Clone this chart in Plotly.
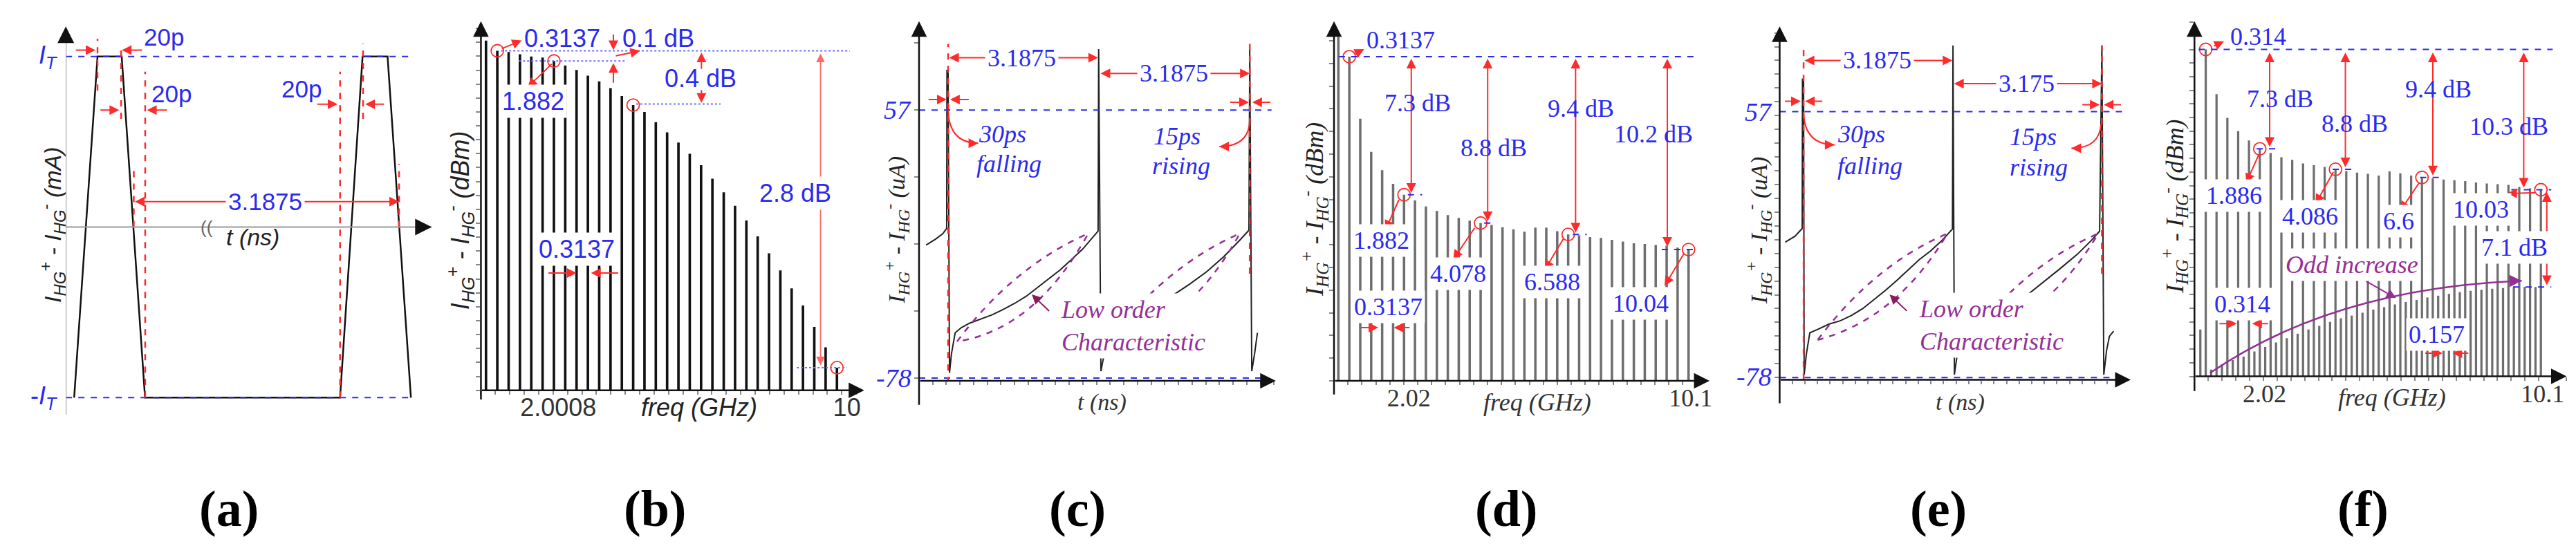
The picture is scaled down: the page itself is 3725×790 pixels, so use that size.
import plotly.graph_objects as go

W, H = 3725, 790
BLUE = "#2a2af0"
RED = "#ff2a2a"
PURPLE = "#952f95"
SANS = "Liberation Sans"
SERIF = "Liberation Serif"

# (a) ideal output current, in units of I_T
t_a = [0.10, 0.38, 0.67, 0.95, 3.29, 3.56, 3.86, 4.14]
i_a = [-1, 1, 1, -1, -1, 1, 1, -1]

# (b) spectrum of the ideal current, dB relative to the 0.3137 GHz line
freq_b = [0.0, 0.3137, 0.6274, 0.9411, 1.2548, 1.5685, 1.8822, 2.1959, 2.5096, 2.8233,
          3.137, 3.4507, 3.7644, 4.0781, 4.3918, 4.7055, 5.0192, 5.3329, 5.6466, 5.9603,
          6.274, 6.5877, 6.9014, 7.2151, 7.5288, 7.8425, 8.1562, 8.4699, 8.7836, 9.0973,
          9.411, 9.7247]
level_b = [0.09, 0.0, -0.01, -0.03, -0.05, -0.06, -0.09, -0.13, -0.17, -0.22,
           -0.27, -0.33, -0.40, -0.48, -0.54, -0.63, -0.72, -0.81, -0.91, -1.01,
           -1.13, -1.25, -1.37, -1.50, -1.64, -1.79, -1.94, -2.10, -2.25, -2.44,
           -2.62, -2.80]
floor_b = -3.0

# (c) simulated output current (uA), 30ps fall / 15ps rise
t_c = [-0.467, -0.257, -0.108, -0.03, -0.024, 0.0, 0.03, 0.072, 0.15, 0.281, 0.461, 0.70,
       0.94, 1.18, 1.419, 1.659, 1.898, 2.138, 2.377, 2.617, 2.856, 3.186, 3.198, 3.246,
       3.335, 3.395, 3.575, 3.874, 4.17, 4.47, 4.80, 5.13, 5.49, 5.85, 6.21, 6.39, 6.407,
       6.45, 6.51, 6.57]
i_c = [-11.0, -7.9, -5.2, -2.6, 77.2, 75.4, -75.4, -65.7, -55.2, -52.6, -50.3, -48.2,
       -46.1, -43.3, -40.3, -36.8, -32.4, -28.0, -23.6, -18.4, -13.1, -4.0, 87.7, -74.5,
       -64.0, -56.1, -53.4, -50.8, -47.3, -42.9, -35.9, -30.7, -24.5, -17.0, -8.2, -3.5, 87.7,
       -74.5, -65.7, -55.2]

# (d) spectrum of (c), dB relative to the 0.3137 GHz line
freq_d = freq_b + [10.0384]
level_d = [1.05, 0.0, -3.28, -5.03, -6.0, -6.72, -7.3, -7.6, -7.92, -8.16, -8.38, -8.53,
           -8.67, -8.8, -8.9, -9.02, -9.13, -9.26, -9.04, -9.04, -9.23, -9.4, -9.45, -9.54,
           -9.59, -9.69, -9.78, -9.87, -9.91, -9.96, -10.0, -10.1, -10.2]
floor_d = -17.15

# (e) simulated output current (uA), second period 3.175 ns
t_e = [-0.393, -0.181, -0.03, -0.024, 0.0, 0.012, 0.06, 0.133, 0.30, 0.543, 0.785, 1.027,
       1.268, 1.51, 1.751, 1.993, 2.234, 2.476, 2.717, 2.959, 3.188, 3.2, 3.23, 3.29, 3.35,
       3.62, 3.93, 4.23, 4.53, 4.80, 5.13, 5.50, 5.86, 6.16, 6.34, 6.389, 6.43, 6.49, 6.55, 6.64]
i_e = [-9.3, -6.2, -2.3, 73.8, 72.0, -76.6, -66.0, -55.3, -53.6, -50.9, -49.2, -46.5,
       -43.0, -38.5, -33.8, -28.8, -23.5, -18.2, -13.8, -8.5, -2.6, 90.6, -76.6, -66.0, -56.2,
       -53.6, -50.9, -47.4, -43.0, -35.9, -29.7, -22.6, -15.5, -8.5, -3.7, 90.6, -76.6, -64.2,
       -57.1, -54.5]

# (f) spectrum of (e): main lines every 0.314 GHz and odd lines in between
freq_f_main = [0.314, 0.628, 0.942, 1.256, 1.57, 1.884, 2.198, 2.512, 2.826, 3.14, 3.454,
               3.768, 4.082, 4.396, 4.71, 5.024, 5.338, 5.652, 5.966, 6.28, 6.594, 6.908,
               7.222, 7.536, 7.85, 8.164, 8.478, 8.792, 9.106, 9.42, 9.734, 10.048]
level_f_main = [0.0, -3.29, -5.02, -6.0, -6.68, -7.3, -7.6, -7.91, -8.11, -8.37, -8.5, -8.62,
                -8.8, -8.93, -9.05, -9.13, -9.26, -8.96, -9.1, -9.26, -9.4, -9.47, -9.55,
                -9.6, -9.67, -9.77, -9.84, -9.9, -9.95, -10.1, -10.2, -10.3]
freq_f_odd = [0.157, 0.471, 0.785, 1.099, 1.413, 1.727, 2.041, 2.355, 2.669, 2.983, 3.297,
              3.611, 3.925, 4.239, 4.553, 4.867, 5.181, 5.495, 5.809, 6.123, 6.437, 6.751,
              7.065, 7.379, 7.693, 8.007, 8.321, 8.635, 8.949, 9.263, 9.577, 9.891]
level_f_odd = [-20.56, -23.5, -23.12, -22.81, -22.55, -22.17, -21.84, -21.51, -21.2, -20.87,
               -20.56, -20.3, -20.0, -19.74, -19.54, -19.33, -19.1, -18.92, -18.72, -18.54,
               -18.39, -18.21, -18.08, -17.95, -17.82, -17.72, -17.64, -17.57, -17.52,
               -17.47, -17.44, -17.44]
floor_f = -24.0

# panel boxes in pixels (left, right, bottom, top) and data ranges
boxes = {1: (87.3, 617, 592, 30.2), 2: (688.2, 1243, 556.7, 22.7), 3: (1322.4, 1838.8, 543.1, 22.7),
         4: (1923.1, 2466.7, 543.1, 22.7), 5: (2568.2, 3076.3, 541.6, 30.2), 6: (3168.7, 3707.4, 536.5, 22.7)}
xr = {1: [0, 4.39], 2: [-0.14, 10.48], 3: [-0.617, 6.96], 4: [-0.125, 10.64], 5: [-0.513, 7.005], 6: [-0.013, 10.795]}
yr = {1: [-1.10, 1.177], 2: [-3.0, 0.2615], 3: [-79.4, 101.7], 4: [-17.15, 1.88], 5: [-79.2, 100.3], 6: [-24.0, 2.07]}


def ref(i):
    return ("x", "y") if i == 1 else ("x%d" % i, "y%d" % i)


def to_paper(i, x, y):
    # plotly hides data-referenced annotations outside the axis range,
    # so labels beside the axes go through paper coordinates instead
    l, r, b, t = boxes[i]
    fx = (x - xr[i][0]) / (xr[i][1] - xr[i][0])
    fy = (y - yr[i][0]) / (yr[i][1] - yr[i][0])
    return (l + fx * (r - l)) / W, 1 - (b - fy * (b - t)) / H


annotations = []
shapes = []


def arrow(i, x0, y0, x1, y1, color=RED, width=2, size=1.4, both=False):
    a, b = ref(i)
    annotations.append(dict(xref=a, yref=b, axref=a, ayref=b, x=x1, y=y1, ax=x0, ay=y0, text="",
                            showarrow=True, arrowhead=2, startarrowhead=2, arrowsize=size,
                            startarrowsize=size, arrowwidth=width, arrowcolor=color,
                            arrowside="end+start" if both else "end"))


def text(i, x, y, s, size=34, color=BLUE, family=SERIF, bg=None, italic=False, **kw):
    a, b = ref(i)
    inside = xr[i][0] <= x <= xr[i][1] and yr[i][0] <= y <= yr[i][1]
    if not inside:
        x, y = to_paper(i, x, y)
        a, b = "paper", "paper"
    annotations.append(dict(xref=a, yref=b, x=x, y=y, text="<i>%s</i>" % s if italic else s,
                            showarrow=False, xanchor="center", yanchor="middle",
                            font=dict(family=family, size=size, color=color),
                            bgcolor=bg or "rgba(0,0,0,0)", borderpad=3, **kw))


def seg(i, x0, y0, x1, y1, color=BLUE, dash="dash", width=2):
    a, b = ref(i)
    shapes.append(dict(type="line", xref=a, yref=b, x0=x0, y0=y0, x1=x1, y1=y1,
                       line=dict(color=color, dash=dash, width=width)))


def curve(i, path, color, dash="solid", width=2):
    a, b = ref(i)
    shapes.append(dict(type="path", xref=a, yref=b, path=path, line=dict(color=color, dash=dash, width=width)))


def paper_text(px, py, s, size, family, color="#222", angle=0):
    annotations.append(dict(xref="paper", yref="paper", x=px / W, y=1 - py / H, text=s, showarrow=False,
                            xanchor="center", yanchor="middle", textangle=angle,
                            font=dict(family=family, size=size, color=color)))


fig = go.Figure()

# ---------------- (a)
seg(1, 0, 1, 4.12, 1, BLUE)
seg(1, 0, -1, 4.14, -1, BLUE)
fig.add_trace(go.Scatter(x=t_a, y=i_a, mode="lines", line=dict(color="#111", width=2.5), xaxis="x", yaxis="y"))
for tx, y0, y1 in [(0.38, 0.80, 1.105), (0.663, 0.635, 1.064), (0.952, -1, 0.911), (0.815, 0, 0.36),
                   (3.29, -1, 0.911), (3.566, 0.635, 1.075), (3.998, 0, 0.37)]:
    seg(1, tx, y0, tx, y1, RED, "dash", 2.5)
seg(1, 0, 0, 4.39, 0, "#999", "solid", 2)
seg(1, 0, -1.10, 0, 1.15, "#999", "solid", 2)
arrow(1, 0, 1.08, 0, 1.177, "#111", 3, 1.6)
arrow(1, 4.30, 0, 4.39, 0, "#111", 3, 1.6)
arrow(1, 0.108, 1.038, 0.355, 1.038)
arrow(1, 0.926, 1.038, 0.672, 1.038)
arrow(1, 0.403, 0.686, 0.640, 0.686)
arrow(1, 1.227, 0.686, 0.973, 0.686)
arrow(1, 3.005, 0.721, 3.259, 0.721)
arrow(1, 3.83, 0.721, 3.592, 0.721)
arrow(1, 0.815, 0.149, 3.998, 0.149, both=True)
text(1, 1.174, 1.115, "20p", 35, family=SANS)
text(1, 1.269, 0.784, "20p", 35, family=SANS)
text(1, 2.824, 0.809, "20p", 35, family=SANS)
text(1, 2.394, 0.149, "3.1875", 35, family=SANS, bg="white")
text(1, 1.688, 0.0, "((", 26, "#666", SANS)
text(1, 2.243, -0.06, "t (ns)", 34, "#222", SANS, italic=True)
text(1, -0.216, 1.0, "I<sub>T</sub>", 36, family=SANS, italic=True)
text(1, -0.264, -1.0, "-<i>I<sub>T</sub></i>", 36, family=SANS)

# ---------------- (b)
fig.add_trace(go.Bar(x=freq_b, y=[v - floor_b for v in level_b], base=floor_b, width=0.07,
                     marker=dict(color="#111", line_width=0), xaxis="x2", yaxis="y2"))
fig.add_trace(go.Scatter(x=[freq_b[1], freq_b[6], freq_b[13], freq_b[31]],
                         y=[level_b[1], level_b[6], level_b[13], level_b[31]], mode="markers",
                         marker=dict(symbol="circle-open", size=18, color=RED, line=dict(width=1.8)),
                         xaxis="x2", yaxis="y2"))
LB = "#6f6fff"
seg(2, 0.41, 0, 10.08, 0, LB, "dot", 2)
seg(2, 0.91, -0.09, 3.84, -0.09, LB, "dot", 2)
seg(2, 4.16, -0.47, 6.5, -0.47, LB, "dot", 2)
seg(2, 8.61, -2.8, 10.0, -2.8, LB, "dot", 2)
arrow(2, -0.14, -3.09, -0.14, 0.2615, "#111", 2.5, 1.8)
arrow(2, -0.14, -3.0, 10.48, -3.0, "#111", 2.5, 1.8)
arrow(2, 0.41, 0.015, 0.99, 0.092)
arrow(2, 3.53, 0.154, 3.53, 0.006)
arrow(2, 3.53, -0.292, 3.53, -0.108)
arrow(2, 3.57, -0.046, 4.27, 0.0)
arrow(2, 5.97, -0.169, 5.97, -0.015)
arrow(2, 5.97, -0.338, 5.97, -0.46)
arrow(2, 9.27, -0.015, 9.27, -2.78, "#ff6a6a", 1.8, both=True)
arrow(2, 1.85, -0.108, 1.15, -0.323)
arrow(2, 1.70, -1.963, 2.51, -1.963)
arrow(2, 3.69, -1.963, 2.91, -1.963)
text(2, 2.12, 0.108, "0.3137", 36, family=SANS)
text(2, 4.78, 0.108, "0.1 dB", 36, family=SANS)
text(2, 5.95, -0.246, "0.4 dB", 36, family=SANS)
text(2, 8.57, -1.26, "2.8 dB", 36, family=SANS, bg="white")
text(2, 1.31, -0.446, "1.882", 36, family=SANS, bg="white")
text(2, 2.52, -1.754, "0.3137", 36, family=SANS, bg="white")
text(2, 5.91, -3.154, "freq (GHz)", 36, "#222", SANS, italic=True)

# ---------------- (c) and (e): time waveforms
for i, t, cur, p, marks in [
    (3, t_c, i_c, [0.0, 6.407, 3.186, 3.216, "3.1875", 6.87, 6.81],
     dict(a1=83.3, a2=75.4, tx1=1.57, tx2=4.80, sm1=62.3, sm2=60.9, lens=(0.19, -59.6, 1.374, -21.9, 2.976, -5.2, 1.853, -53.4, 3.22),
          lo=(3.93, -51.7), la=(2.168, -44.7, 1.778, -35.9), tl=(3.275, -90.3), ybot=-92, rdb=-86.8, rd2=-25.4, rtop=90.3,
          c1=(0.0, 57, 0.02, 40.3, 0.64, 40.3), c2=(6.407, 51.7, 6.39, 38.6, 5.76, 38.6),
          txt=((1.15, 44.7), (1.30, 29.8), (4.86, 43.9), (4.95, 29.0)), n57=(-1.07, 57), n78=(-1.156, -78),
          sm=((-0.437, -0.03), (0.461, 0.042), (5.97, 6.39), (6.87, 6.46)))),
    (5, t_e, i_e, [0.0, 6.389, 3.188, 3.2, "3.175", 6.854, 6.763],
     dict(a1=83.0, a2=71.2, tx1=1.57, tx2=4.77, sm1=62.3, sm2=60.5, lens=(0.302, -58.9, 1.51, -20.8, 3.08, -4.9, 2.0, -48.3, 3.23),
          lo=(4.016, -51.5), la=(2.234, -44.7, 1.842, -35.9), tl=(3.35, -90.7), ybot=-91.6, rdb=-85.4, rd2=-25.3, rtop=90.6,
          c1=(0.0, 56.1, 0.03, 40.2, 0.664, 40.2), c2=(6.371, 50.8, 6.34, 38.4, 5.737, 38.4),
          txt=((1.238, 45.5), (1.419, 29.6), (4.92, 44.1), (5.04, 28.7)), n57=(-0.966, 57), n78=(-1.057, -77.5),
          sm=((-0.423, -0.06), (0.423, 0.03), (5.948, 6.34), (6.82, 6.43))))]:
    m = marks
    x0 = xr[i][0]
    seg(i, x0, 57, p[5], 57, BLUE, "dash", 2)
    seg(i, x0, -78, p[6], -78, BLUE, "dash", 2)
    L = m["lens"]
    for sh in (0, L[8]):
        curve(i, "M %g,%g Q %g,%g %g,%g Q %g,%g %g,%g" % (L[0] + sh, L[1], L[2] + sh, L[3], L[4] + sh, L[5],
                                                          L[6] + sh, L[7], L[0] + sh, L[1]), PURPLE, "dash", 2.5)
    fig.add_trace(go.Scatter(x=t, y=cur, mode="lines", line=dict(color="#222", width=2),
                             xaxis="x%d" % i, yaxis="y%d" % i))
    seg(i, p[0], m["rdb"], p[0], m["rtop"], RED, "dash", 2.5)
    seg(i, p[1], m["rd2"], p[1], m["rtop"], RED, "dash", 2.5)
    arrow(i, x0, m["ybot"], x0, yr[i][1], "#111", 2.5, 1.8)
    arrow(i, x0, yr[i][0], xr[i][1], yr[i][0], "#111", 2.5, 1.8)
    arrow(i, p[0], m["a1"], p[2], m["a1"], both=True)
    arrow(i, p[3], m["a2"], p[1], m["a2"], both=True)
    text(i, m["tx1"], m["a1"], "3.1875", 36, bg="white")
    text(i, m["tx2"], m["a2"], p[4], 36, bg="white")
    s = m["sm"]
    arrow(i, s[0][0], m["sm1"], s[0][1], m["sm1"])
    arrow(i, s[1][0], m["sm1"], s[1][1], m["sm1"])
    arrow(i, s[2][0], m["sm2"], s[2][1], m["sm2"])
    arrow(i, s[3][0], m["sm2"], s[3][1], m["sm2"])
    c1, c2 = m["c1"], m["c2"]
    curve(i, "M %g,%g Q %g,%g %g,%g" % c1, RED, width=2)
    curve(i, "M %g,%g Q %g,%g %g,%g" % c2, RED, width=2)
    arrow(i, c1[4] - 0.1, c1[5], c1[4], c1[5])
    arrow(i, c2[4] + 0.1, c2[5], c2[4], c2[5])
    tt = m["txt"]
    text(i, tt[0][0], tt[0][1], "30ps", 36, italic=True)
    text(i, tt[1][0], tt[1][1], "falling", 36, italic=True)
    text(i, tt[2][0], tt[2][1], "15ps", 36, italic=True)
    text(i, tt[3][0], tt[3][1], "rising", 36, italic=True)
    text(i, m["n57"][0], m["n57"][1], "57", 38, italic=True)
    text(i, m["n78"][0], m["n78"][1], "-78", 38, italic=True)
    text(i, m["lo"][0], m["lo"][1], "Low order<br>Characteristic", 36, PURPLE, italic=True, bg="white", align="left")
    la = m["la"]
    arrow(i, la[0], la[1], la[2], la[3], "#8b1a5a", 2)
    text(i, m["tl"][0], m["tl"][1], "t (ns)", 34, "#333", italic=True)

# ---------------- (d)
GR = "#6e6e6e"
fig.add_trace(go.Bar(x=freq_d, y=[v - floor_d for v in level_d], base=floor_d, width=0.07,
                     marker=dict(color=GR, line_width=0), xaxis="x4", yaxis="y4"))
seg(4, 0.01, 0, 10.28, 0, BLUE, "dash", 2)
for a0, a1, lv in [(1.99, 2.4, -7.3), (4.18, 4.54, -8.8), (6.72, 7.12, -9.4), (9.27, 10.2, -10.2)]:
    seg(4, a0, lv, a1, lv, BLUE, "dash", 2)
ci = [1, 6, 13, 21, 32]
fig.add_trace(go.Scatter(x=[freq_d[k] for k in ci], y=[level_d[k] for k in ci], mode="markers",
                         marker=dict(symbol="circle-open", size=18, color=RED, line=dict(width=1.8)),
                         xaxis="x4", yaxis="y4"))
arrow(4, -0.125, -17.92, -0.125, 1.88, "#111", 2.5, 1.8)
arrow(4, -0.125, -17.15, 10.64, -17.15, "#111", 2.5, 1.8)
arrow(4, 0.457, 0.13, 0.74, 0.405)
for fx, lv in [(2.09, -7.2), (4.28, -8.7), (6.80, -9.3), (9.43, -10.05)]:
    arrow(4, fx, -0.055, fx, lv, both=True)
for a in [(1.75, -7.51, 1.345, -9.17), (3.93, -8.99, 3.29, -10.74), (6.48, -9.54, 5.91, -11.29),
          (9.92, -10.37, 9.35, -12.12), (0.618, -14.33, 1.144, -14.33), (2.07, -14.33, 1.59, -14.33)]:
    arrow(4, *a)
text(4, 1.79, 0.866, "0.3137", 36)
text(4, 2.275, -2.45, "7.3 dB", 36)
text(4, 4.46, -4.84, "8.8 dB", 36)
text(4, 6.96, -2.73, "9.4 dB", 36)
text(4, 9.03, -4.1, "10.2 dB", 36)
text(4, 1.226, -9.72, "1.882", 36, bg="white")
text(4, 3.43, -11.47, "4.078", 36, bg="white")
text(4, 6.12, -11.93, "6.588", 36, bg="white")
text(4, 8.66, -13.04, "10.04", 36, bg="white")
text(4, 1.43, -13.22, "0.3137", 36, bg="white")
text(4, 5.71, -18.29, "freq (GHz)", 36, "#333", italic=True)

# ---------------- (f)
fig.add_trace(go.Bar(x=freq_f_main, y=[v - floor_f for v in level_f_main], base=floor_f, width=0.065,
                     marker=dict(color=GR, line_width=0), xaxis="x6", yaxis="y6"))
fig.add_trace(go.Bar(x=freq_f_odd, y=[v - floor_f for v in level_f_odd], base=floor_f, width=0.065,
                     marker=dict(color=GR, line_width=0), xaxis="x6", yaxis="y6"))
seg(6, 0.11, 0, 10.39, 0, BLUE, "dash", 2)
for a0, a1, lv in [(1.79, 2.48, -7.3), (4.0, 4.65, -8.8), (6.54, 7.23, -9.4), (9.19, 10.35, -10.3),
                   (9.24, 10.35, -17.44)]:
    seg(6, a0, lv, a1, lv, BLUE, "dash", 2)
ci = [0, 5, 12, 20, 31]
fig.add_trace(go.Scatter(x=[freq_f_main[k] for k in ci], y=[level_f_main[k] for k in ci], mode="markers",
                         marker=dict(symbol="circle-open", size=18, color=RED, line=dict(width=1.8)),
                         xaxis="x6", yaxis="y6"))
curve(6, "M 0.437,-23.76 Q 4.04,-17.53 9.49,-16.98", PURPLE, width=2.5)
arrow(6, 9.2, -17.0, 9.49, -16.98, PURPLE, 2.5)
arrow(6, 4.94, -16.98, 5.84, -18.26, PURPLE, 2)
arrow(6, -0.013, -25.16, -0.013, 2.07, "#111", 2.5, 1.8)
arrow(6, -0.013, -24.0, 10.795, -24.0, "#111", 2.5, 1.8)
arrow(6, 0.52, 0.21, 0.846, 0.59)
for fx, lv in [(2.17, -7.15), (4.37, -8.65), (6.91, -9.25), (9.55, -10.15)]:
    arrow(6, fx, -0.15, fx, lv, both=True)
arrow(6, 10.22, -10.4, 10.22, -17.3, both=True)
for a in [(1.87, -7.64, 1.486, -9.82), (4.04, -8.92, 3.5, -11.35), (6.54, -9.69, 5.96, -11.86),
          (9.94, -10.51, 9.07, -10.58), (0.683, -20.13, 1.215, -20.13), (2.156, -20.13, 1.664, -20.13),
          (6.66, -22.3, 7.19, -22.3), (7.97, -22.3, 7.48, -22.3)]:
    arrow(6, *a)
text(6, 1.83, 0.92, "0.314", 36)
text(6, 2.48, -3.63, "7.3 dB", 36)
text(6, 4.65, -5.47, "8.8 dB", 36)
text(6, 7.07, -2.91, "9.4 dB", 36)
text(6, 9.12, -5.68, "10.3 dB", 36)
text(6, 1.13, -10.72, "1.886", 36, bg="white")
text(6, 3.34, -12.25, "4.086", 36, bg="white")
text(6, 5.92, -12.63, "6.6", 36, bg="white")
text(6, 8.3, -11.74, "10.03", 36, bg="white")
text(6, 9.28, -14.55, "7.1 dB", 36, bg="white")
text(6, 4.57, -15.83, "Odd increase", 36, PURPLE, italic=True, bg="white")
text(6, 1.38, -18.72, "0.314", 36, bg="white")
text(6, 7.03, -20.94, "0.157", 36, bg="white")
text(6, 5.72, -25.55, "freq (GHz)", 36, "#333", italic=True)

# ---------------- y titles and panel letters
ytitle = "<i>I<sub>HG</sub><sup>+</sup> - I<sub>HG</sub><sup>-</sup> (%s)</i>"
paper_text(68, 317, ytitle % "mA", 34, SANS, angle=-90)
paper_text(658, 311, ytitle % "dBm", 36, SANS, angle=-90)
paper_text(1289, 325, ytitle % "uA", 34, SERIF, angle=-90)
paper_text(1895, 295, ytitle % "dBm", 36, SERIF, angle=-90)
paper_text(2537, 325, ytitle % "uA", 34, SERIF, angle=-90)
paper_text(3140, 291, ytitle % "dBm", 36, SERIF, angle=-90)
for px, s in [(323, "(a)"), (940, "(b)"), (1552, "(c)"), (2172, "(d)"), (2798, "(e)"), (3413, "(f)")]:
    paper_text(px, 728, "<b>%s</b>" % s, 74, SERIF, "#000")

# ---------------- axes
layout_axes = {}
ticks_x = {2: ([2.0008, 10], ["2.0008", "10"], SANS), 4: ([2.02, 10.1], ["2.02", "10.1"], SERIF),
           6: ([2.02, 10.1], ["2.02", "10.1"], SERIF)}
ytick = {2: (-3.0, 0.123), 3: (-78, 33.75), 4: (-17.15, 1.2), 5: (-78, 7.0), 6: (0, 1.0)}
xtick = {2: 0.4, 3: 0.29, 4: 0.4, 5: 0.27, 6: 0.4}
for i in range(1, 7):
    l, r, b, t = boxes[i]
    xa = dict(domain=[l / W, r / W], range=xr[i], showgrid=False, zeroline=False, showline=False,
              anchor="y" if i == 1 else "y%d" % i, fixedrange=True)
    ya = dict(domain=[1 - b / H, 1 - t / H], range=yr[i], showgrid=False, zeroline=False, showline=False,
              anchor="x" if i == 1 else "x%d" % i, fixedrange=True)
    if i == 1:
        xa.update(visible=False)
        ya.update(visible=False)
    else:
        if i in ticks_x:
            vals, txt, fam = ticks_x[i]
            xa.update(tickmode="array", tickvals=vals, ticktext=txt, ticks="",
                      tickfont=dict(family=fam, size=36, color="#333"))
        else:
            xa.update(tickmode="array", tickvals=[], ticks="")
        xa.update(minor=dict(ticks="outside", tickmode="linear", tick0=xr[i][0], dtick=xtick[i],
                             ticklen=5, tickcolor="#888", tickwidth=1.5))
        y0, dy = ytick[i]
        ya.update(tickmode="linear", tick0=y0, dtick=dy, ticks="outside", ticklen=6, tickcolor="#888",
                  tickwidth=1.5, showticklabels=False)
    layout_axes["xaxis" if i == 1 else "xaxis%d" % i] = xa
    layout_axes["yaxis" if i == 1 else "yaxis%d" % i] = ya

fig.update_layout(width=W, height=H, margin=dict(l=0, r=0, t=0, b=0), showlegend=False,
                  plot_bgcolor="white", paper_bgcolor="white", barmode="overlay",
                  annotations=annotations, shapes=shapes, **layout_axes)
fig.write_html("out.html")
